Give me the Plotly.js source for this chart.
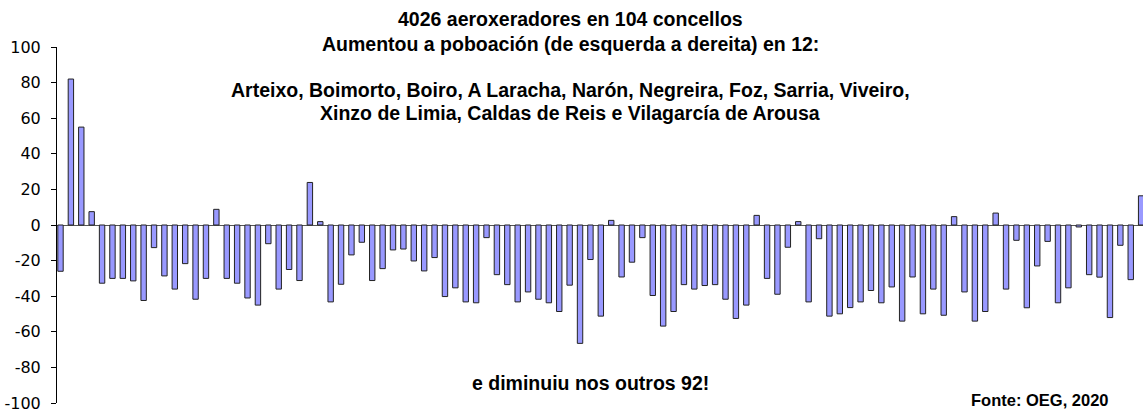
<!DOCTYPE html>
<html>
<head>
<meta charset="utf-8">
<script src="https://cdn.plot.ly/plotly-3.0.1.min.js"></script>
<style>html,body{margin:0;padding:0;background:#fff;}#chart{width:1143px;height:409px;}</style>
</head>
<body>
<div id="chart"></div>
<script>
// Population change (%) per concello, left to right
const changeValues = [
  -26, 82, 55, 7.5, -32.7, -30, -30, -31.4, -42.4, -12.7,
  -28.6, -36, -21.7, -41.7, -30, 8.8, -30, -32.7, -41, -45,
  -10.5, -36, -25, -31.2, 23.9, 1.9, -43.2, -33.3, -16.8, -9.7,
  -31.2, -24.5, -14, -13.5, -20.2, -25.8, -18.3, -40.2, -35.3, -43.2,
  -43.7, -7.1, -27.9, -33.5, -43.2, -37.6, -41.7, -43.7, -48.6, -33.8,
  -66.5, -19.4, -51.2, 2.6, -29.2, -20.9, -7.1, -39.6, -56.8, -48.6,
  -33.5, -36, -34, -33.5, -41.7, -52.5, -45, 5.4, -30, -38.9,
  -12.5, 1.9, -43.2, -7.7, -51.2, -49.9, -46.4, -43.2, -36.8, -43.7,
  -34.8, -54, -29.2, -49.9, -36, -50.7, 4.7, -37.6, -54, -48.6,
  6.7, -36, -8.6, -46.5, -23, -9.2, -43.7, -35.3, -1.1, -27.9,
  -29.3, -52, -11.4, -30.7, 16.4
];
const categories = changeValues.map((_, i) => i + 1);
const yTickVals = [-100, -80, -60, -40, -20, 0, 20, 40, 60, 80, 100];
const yTickText = ["-100", "-80", "-60", "-40", "-20", "0", "20", "40", "60", "80", "100"];
const titleLines = [
  "4026 aeroxeradores en 104 concellos",
  "Aumentou a poboación (de esquerda a dereita) en 12:",
  "Arteixo, Boimorto, Boiro, A Laracha, Narón, Negreira, Foz, Sarria, Viveiro,",
  "Xinzo de Limia, Caldas de Reis e Vilagarcía de Arousa"
];
const bottomNote = "e diminuiu nos outros 92!";
const sourceNote = "Fonte: OEG, 2020";

const trace = {
  type: 'bar',
  x: categories,
  y: changeValues,
  width: 0.52,
  marker: {color: '#9999ff', line: {color: '#222222', width: 1}},
  hoverinfo: 'x+y'
};

const txtFont = {family: 'Liberation Sans, Arial, sans-serif', size: 19.5, color: '#000', weight: 'bold'};
const titleY = [1.0787, 1.0084, 0.8792, 0.8146];
const annotations = titleLines.map((t, i) => ({
  text: t, xref: 'paper', yref: 'paper', x: 0.4724, y: titleY[i],
  xanchor: 'center', yanchor: 'middle', showarrow: false, font: txtFont
}));
annotations.push({
  text: bottomNote, xref: 'paper', yref: 'paper', x: 0.4908, y: 0.0562,
  xanchor: 'center', yanchor: 'middle', showarrow: false, font: txtFont
});
annotations.push({
  text: sourceNote, xref: 'paper', yref: 'paper', x: 0.9705, y: 0.0084,
  xanchor: 'right', yanchor: 'middle', showarrow: false,
  font: {family: 'Liberation Sans, Arial, sans-serif', size: 16.5, color: '#000', weight: 'bold'}
});

const layout = {
  width: 1143, height: 409,
  margin: {l: 57, r: 0, t: 47, b: 6, pad: 0},
  paper_bgcolor: '#fff', plot_bgcolor: '#fff',
  showlegend: false,
  bargap: 0,
  xaxis: {
    range: [0.663, 105.18], showticklabels: false, showgrid: false,
    zeroline: false, showline: false, ticks: ''
  },
  yaxis: {
    range: [-100, 100], tickvals: yTickVals, ticktext: yTickText,
    ticks: 'outside', ticklen: 5, tickcolor: '#000', tickwidth: 1,
    ticklabelstandoff: 7, ticklabeloverflow: 'allow',
    showline: true, linecolor: '#000', linewidth: 1,
    showgrid: false, zeroline: true, zerolinecolor: '#555', zerolinewidth: 1,
    tickfont: {family: 'DejaVu Sans, Verdana, sans-serif', size: 16, color: '#000'}
  },
  annotations: annotations
};

Plotly.newPlot('chart', [trace], layout, {displayModeBar: false, staticPlot: true});
</script>
</body>
</html>
